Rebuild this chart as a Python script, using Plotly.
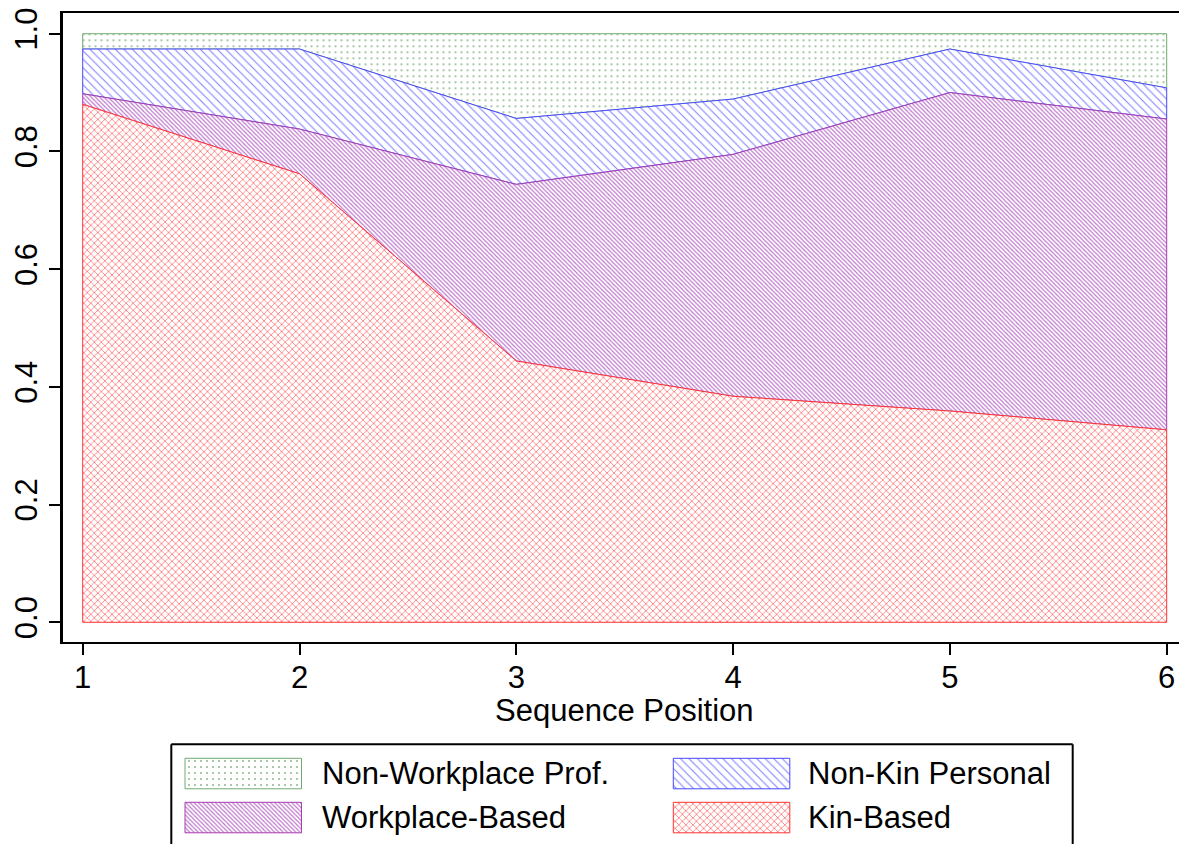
import plotly.graph_objects as go

# ---------------- data ----------------
positions = [1, 2, 3, 4, 5, 6]
kin_based = [0.880, 0.762, 0.444, 0.384, 0.359, 0.327]
workplace_based = [0.018, 0.076, 0.300, 0.411, 0.541, 0.528]
non_kin_personal = [0.076, 0.136, 0.112, 0.094, 0.074, 0.053]
non_workplace_prof = [0.026, 0.026, 0.144, 0.111, 0.026, 0.092]

y_tick_vals = [0.0, 0.2, 0.4, 0.6, 0.8, 1.0]
y_tick_text = ["0.0", "0.2", "0.4", "0.6", "0.8", "1.0"]
x_title = "Sequence Position"

names = ["Kin-Based", "Workplace-Based", "Non-Kin Personal", "Non-Workplace Prof."]
values = [kin_based, workplace_based, non_kin_personal, non_workplace_prof]

# ---------------- styles ----------------
FONT = "Liberation Sans, Arial, sans-serif"
FS = 31
styles = {
    "Kin-Based": dict(line="rgb(255,50,50)", shape="x", fg="rgb(255,105,105)", size=5, sol=0.27),
    "Workplace-Based": dict(line="rgb(165,60,175)", shape="\\", fg="rgb(188,115,203)", size=3, sol=0.38),
    "Non-Kin Personal": dict(line="rgb(70,70,255)", shape="\\", fg="rgb(130,130,255)", size=6, sol=0.18),
    "Non-Workplace Prof.": dict(line="rgb(110,170,110)", shape=".", fg="rgb(140,180,140)", size=6, sol=0.09),
}

# page body margin is removed by the post script, so no offset
OFF = 0
W, H = 1179 - OFF, 844 - OFF
# plot frame in reference pixels
PL, PR, PT, PB = 62.5, 1179.0, 13.3, 641.7
X_RANGE = [0.9068, 6.0568]
Y_RANGE = [-0.033, 1.0347]


def fx(px):
    return (px - OFF) / W


def fy(py):
    return 1 - (py - OFF) / H


# cumulative stacking
lowers, uppers = [], []
run = [0.0] * len(positions)
for v in values:
    lo = run[:]
    up = [a + b for a, b in zip(run, v)]
    lowers.append(lo)
    uppers.append(up)
    run = up

fig = go.Figure()

# draw from top layer down so lower layer outlines sit on top
for i in reversed(range(len(names))):
    nm = names[i]
    st = styles[nm]
    xs = positions + positions[::-1] + [positions[0]]
    ys = uppers[i] + lowers[i][::-1] + [uppers[i][0]]
    fig.add_trace(go.Scatter(
        x=xs, y=ys, mode="lines", fill="toself",
        line=dict(color=st["line"], width=1),
        fillcolor="white",
        fillpattern=dict(shape=st["shape"], fgcolor=st["fg"], bgcolor="white",
                         size=st["size"], solidity=st["sol"], fillmode="replace"),
        name=nm, showlegend=False, hoverinfo="skip",
        xaxis="x", yaxis="y",
    ))

# ---------------- custom legend ----------------
legend_layout = [
    ("Non-Workplace Prof.", 185.0, 758.3, 320.0),
    ("Non-Kin Personal", 673.3, 758.3, 806.3),
    ("Workplace-Based", 185.0, 802.3, 320.0),
    ("Kin-Based", 673.3, 802.3, 806.3),
]
SW_W, SW_H = 116.5, 30.5
for nm, sx, sy, tx in legend_layout:
    st = styles[nm]
    fig.add_trace(go.Scatter(
        x=[sx - OFF, sx + SW_W - OFF, sx + SW_W - OFF, sx - OFF, sx - OFF],
        y=[sy - OFF, sy - OFF, sy + SW_H - OFF, sy + SW_H - OFF, sy - OFF],
        mode="lines", fill="toself",
        line=dict(color=st["line"], width=1),
        fillcolor="white",
        fillpattern=dict(shape=st["shape"], fgcolor=st["fg"], bgcolor="white",
                         size=st["size"], solidity=st["sol"], fillmode="replace"),
        showlegend=False, hoverinfo="skip", xaxis="x2", yaxis="y2",
    ))
    fig.add_annotation(x=fx(tx), y=fy(sy + SW_H / 2), xref="paper", yref="paper",
                       text=nm, showarrow=False, xanchor="left", yanchor="middle",
                       font=dict(family=FONT, size=FS, color="black"))

# legend box (bottom is cut off by the figure edge)
LB_L, LB_R, LB_T = 171.3, 1072.7, 744.3
for x0, y0, x1, y1 in [(LB_L, LB_T, LB_R, LB_T), (LB_L, LB_T, LB_L, 860), (LB_R, LB_T, LB_R, 860)]:
    fig.add_shape(type="line", xref="paper", yref="paper",
                  x0=fx(x0), y0=fy(y0), x1=fx(x1), y1=fy(y1),
                  line=dict(color="black", width=2))

# x axis title
fig.add_annotation(x=(positions[0] + positions[-1]) / 2, y=fy(710),
                   xref="x", yref="paper", text=x_title, showarrow=False,
                   xanchor="center", yanchor="middle",
                   font=dict(family=FONT, size=FS, color="black"))

axis_common = dict(showgrid=False, zeroline=False, showline=True, linecolor="black",
                   linewidth=2.5, ticks="outside", ticklen=11, tickwidth=2, tickcolor="black",
                   tickfont=dict(family=FONT, size=FS, color="black"), automargin=False,
                   ticklabeloverflow="allow")

fig.update_layout(
    width=W, height=H,
    margin=dict(l=0, r=0, t=0, b=0),
    paper_bgcolor="white", plot_bgcolor="white",
    showlegend=False, hovermode=False,
    xaxis=dict(domain=[fx(PL), 1.0], range=X_RANGE, tickvals=positions,
               ticktext=[str(p) for p in positions], mirror=True,
               ticklabelstandoff=-4, anchor="y", **axis_common),
    yaxis=dict(domain=[fy(PB), fy(PT)], range=Y_RANGE, tickvals=y_tick_vals,
               ticktext=y_tick_text, tickangle=-90, mirror=False,
               ticklabelstandoff=0, anchor="x", **axis_common),
    xaxis2=dict(domain=[0, 1], range=[0, W], visible=False, anchor="y2", fixedrange=True),
    yaxis2=dict(domain=[0, fy(740)], range=[H, 740 - OFF], visible=False, anchor="x2", fixedrange=True),
)

fig.write_html(
    "out.html",
    config={"displayModeBar": False, "staticPlot": True},
    post_script="document.body.style.margin='0';document.body.style.overflow='hidden';",
)
